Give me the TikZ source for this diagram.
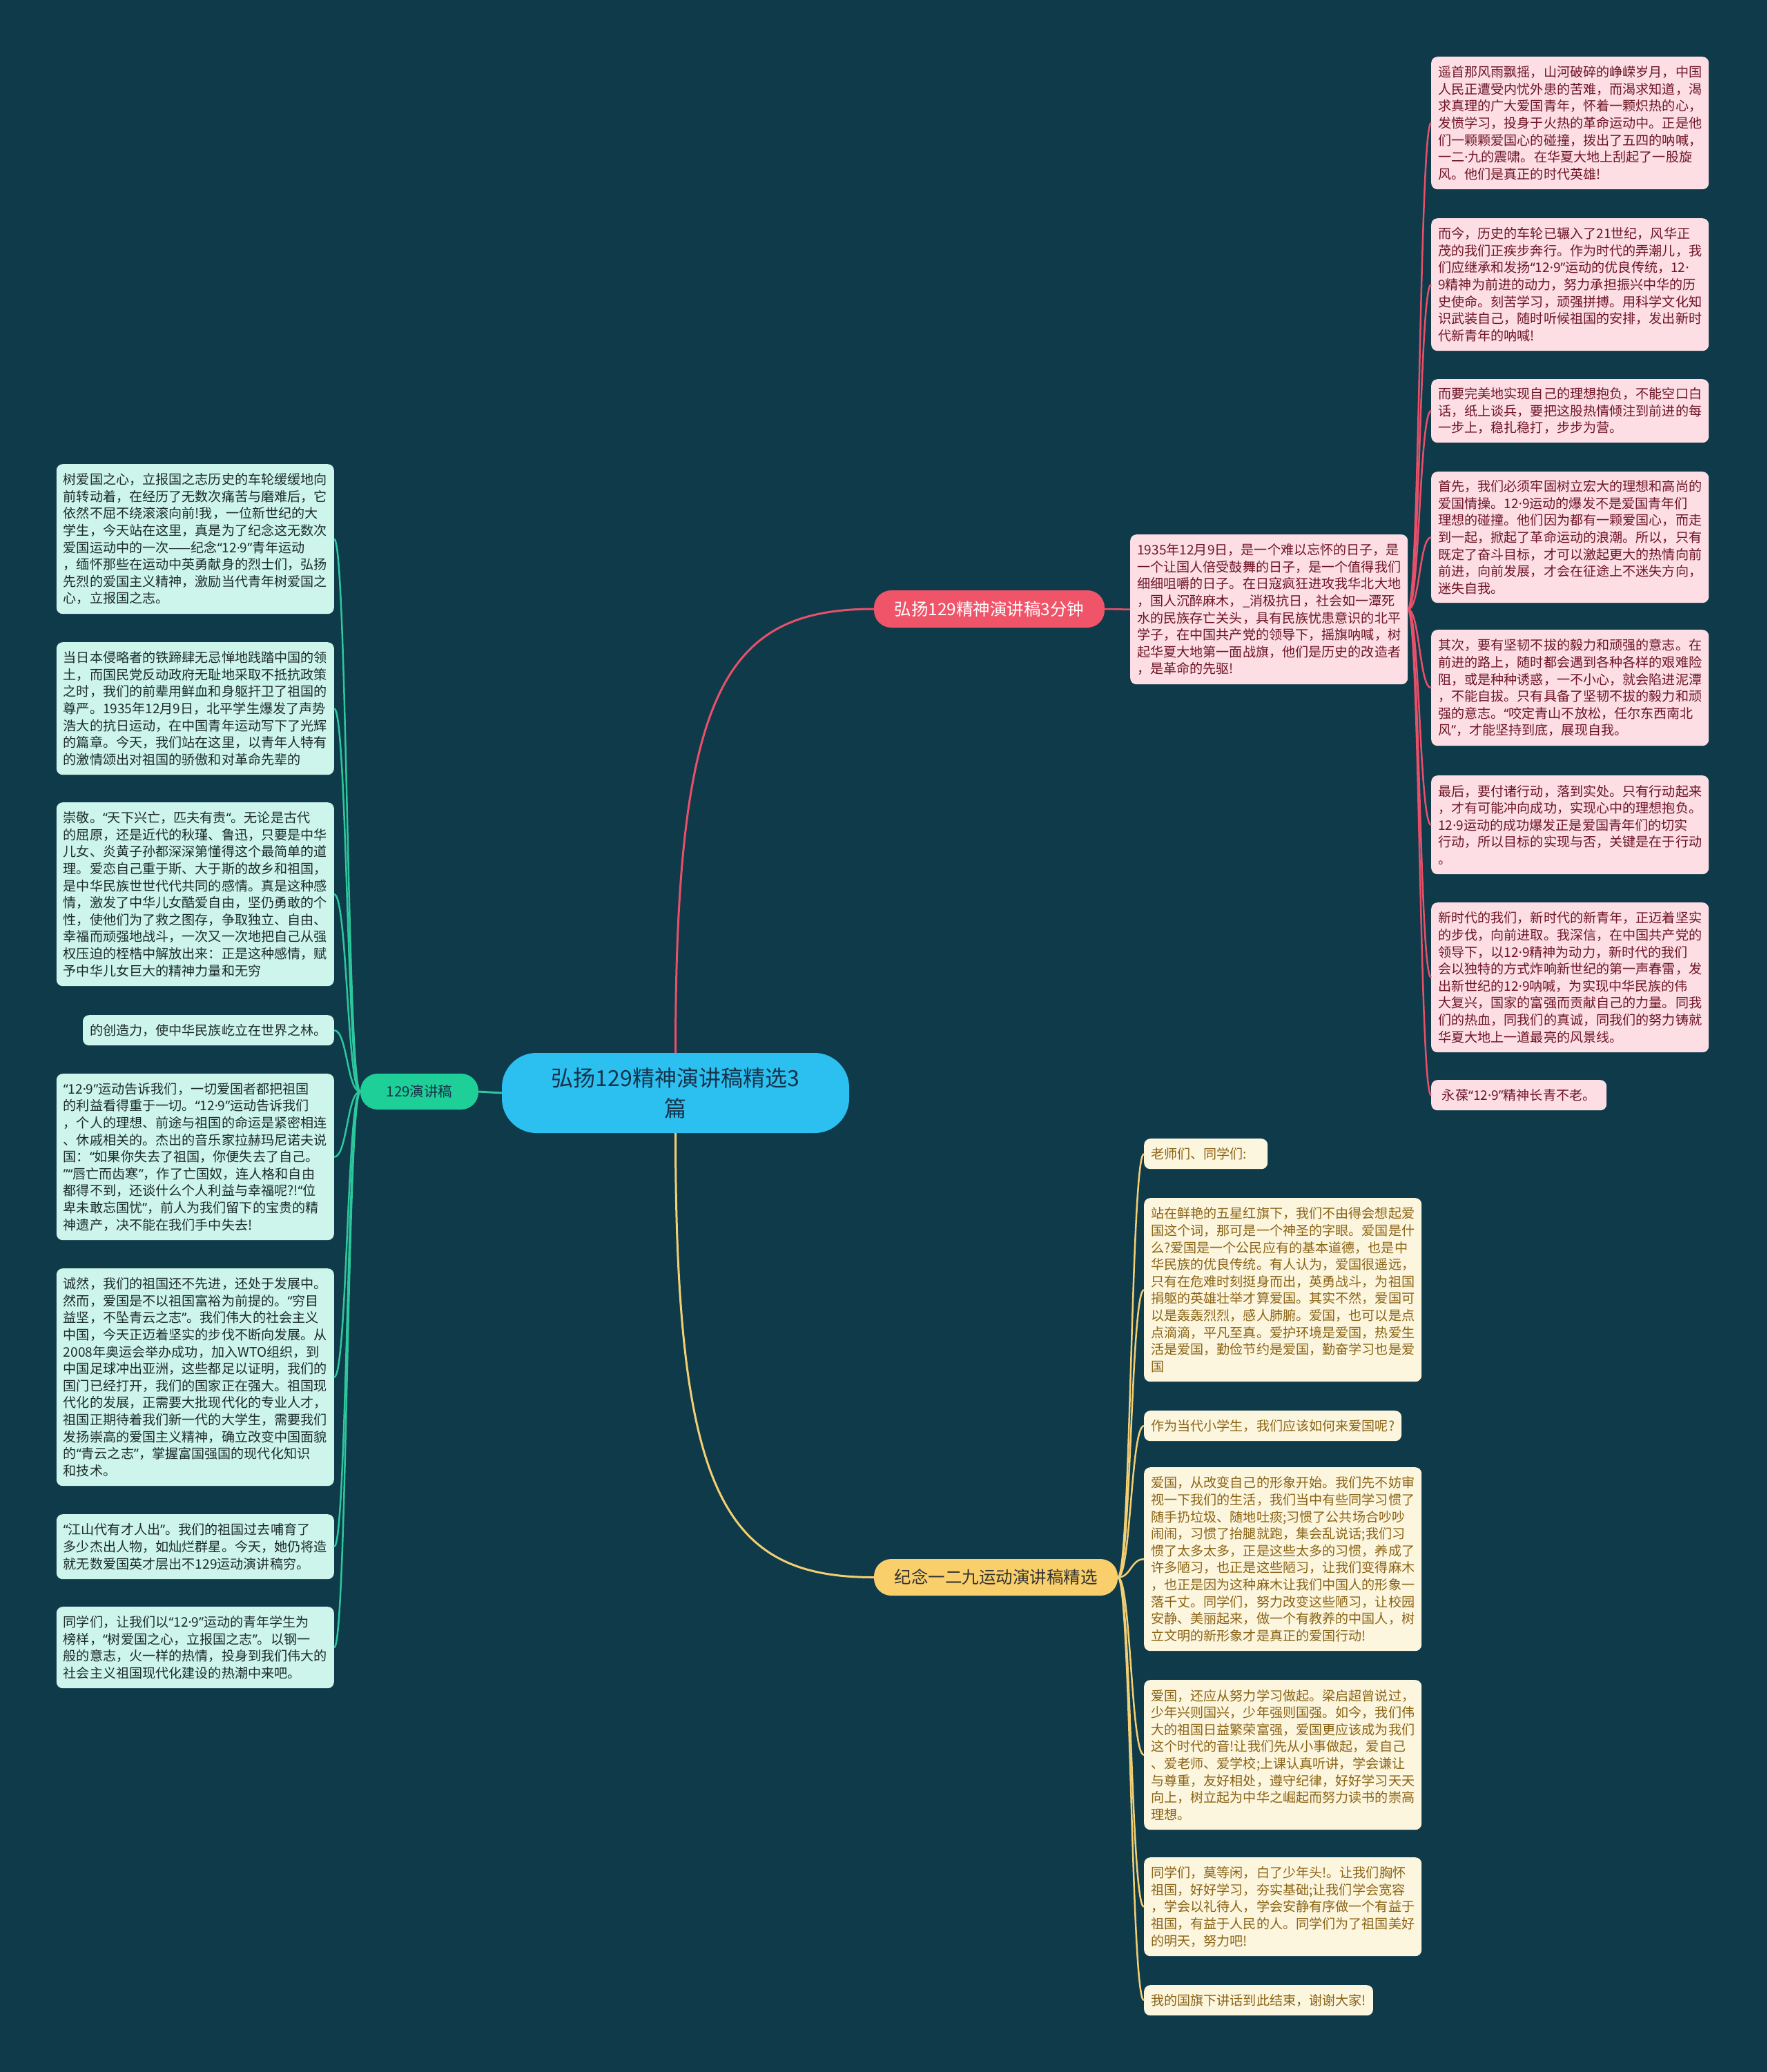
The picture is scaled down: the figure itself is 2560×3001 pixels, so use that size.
\documentclass[tikz,border=0pt]{standalone}
\usepackage{fontspec}
\newfontfamily\cjk{Noto Sans CJK SC}
\newfontfamily\dotf{Noto Sans}
\newcommand\zdot{{\dotf ·}}
\newcommand\qo{{\dotf “}}
\newcommand\qc{{\dotf ”}}
\usetikzlibrary{calc}
\definecolor{bg}{HTML}{0E3A4A}
\definecolor{mint}{HTML}{CDF5EC}
\definecolor{minttext}{HTML}{1C2B2B}
\definecolor{pinkbox}{HTML}{FCDEE4}
\definecolor{pinktext}{HTML}{6E1526}
\definecolor{yelbox}{HTML}{FDF6DE}
\definecolor{yeltext}{HTML}{8A6416}
\definecolor{centerfill}{HTML}{2BC0F0}
\definecolor{centertext}{HTML}{17324A}
\definecolor{tfill}{HTML}{EF5469}
\definecolor{lfill}{HTML}{1ECF98}
\definecolor{bfill}{HTML}{F8CF6B}
\definecolor{gline}{HTML}{2CC79C}
\definecolor{pline}{HTML}{E8506A}
\definecolor{yline}{HTML}{F3CF73}
\begin{document}
\begin{tikzpicture}[x=1pt,y=-1pt,
  box/.style={rounded corners=9pt, inner xsep=10pt, inner ysep=0pt,
    font=\cjk\fontsize{19.1}{24.6}\selectfont, align=left},
  wide/.style={text width=382pt},
  lbox/.style={box, fill=mint, text=minttext, anchor=north east},
  rbox/.style={box, fill=pinkbox, text=pinktext, anchor=north west},
  ybox/.style={box, fill=yelbox, text=yeltext, anchor=north west},
  gconn/.style={draw=gline, line width=2.5pt},
  pconn/.style={draw=pline, line width=2.5pt},
  yconn/.style={draw=yline, line width=2.5pt},
]
\useasboundingbox (0,0) rectangle (2560,3001);
\fill[bg] (0,0) rectangle (2560,3001);

% main nodes
\node[fill=centerfill, text=centertext, rounded corners=50pt, minimum width=503pt, minimum height=116pt,
  align=center, font=\cjk\fontsize{32}{44}\selectfont] (C) at (978.5,1583) {弘扬129精神演讲稿精选3\\篇};
\node[fill=tfill, text=white, rounded corners=25pt, minimum width=334pt, minimum height=54pt,
  font=\cjk\fontsize{24.5}{30}\selectfont] (T) at (1433,882) {弘扬129精神演讲稿3分钟};
\node[fill=lfill, text=centertext, rounded corners=25pt, minimum width=171pt, minimum height=52pt,
  font=\cjk\fontsize{20.5}{26}\selectfont] (L) at (607.5,1581) {129演讲稿};
\node[fill=bfill, text=black!80, rounded corners=25pt, minimum width=353pt, minimum height=53pt,
  font=\cjk\fontsize{24.5}{30}\selectfont] (B) at (1442.5,2284.5) {纪念一二九运动演讲稿精选};

% middle box
\node[rbox, wide, minimum height=217pt] (M) at (1637,774) {1935年12月9日，是一个难以忘怀的日子，是\\一个让国人倍受鼓舞的日子，是一个值得我们\\细细咀嚼的日子。在日寇疯狂进攻我华北大地\\，国人沉醉麻木，\_消极抗日，社会如一潭死\\水的民族存亡关头，具有民族忧患意识的北平\\学子，在中国共产党的领导下，摇旗呐喊，树\\起华夏大地第一面战旗，他们是历史的改造者\\，是革命的先驱!};

% right top boxes
\node[rbox, wide, minimum height=192pt] (R1) at (2073,82) {遥首那风雨飘摇，山河破碎的峥嵘岁月，中国\\人民正遭受内忧外患的苦难，而渴求知道，渴\\求真理的广大爱国青年，怀着一颗炽热的心，\\发愤学习，投身于火热的革命运动中。正是他\\们一颗颗爱国心的碰撞，拨出了五四的呐喊，\\一二\zdot 九的震啸。在华夏大地上刮起了一股旋\\风。他们是真正的时代英雄!};
\node[rbox, wide, minimum height=192pt] (R2) at (2073,316) {而今，历史的车轮已辗入了21世纪，风华正\\茂的我们正疾步奔行。作为时代的弄潮儿，我\\们应继承和发扬\qo{}12\zdot 9\qc{}运动的优良传统，12\zdot\\9精神为前进的动力，努力承担振兴中华的历\\史使命。刻苦学习，顽强拼搏。用科学文化知\\识武装自己，随时听候祖国的安排，发出新时\\代新青年的呐喊!};
\node[rbox, wide, minimum height=92pt] (R3) at (2073,549) {而要完美地实现自己的理想抱负，不能空口白\\话，纸上谈兵，要把这股热情倾注到前进的每\\一步上，稳扎稳打，步步为营。};
\node[rbox, wide, minimum height=190pt] (R4) at (2073,683) {首先，我们必须牢固树立宏大的理想和高尚的\\爱国情操。12\zdot 9运动的爆发不是爱国青年们\\理想的碰撞。他们因为都有一颗爱国心，而走\\到一起，掀起了革命运动的浪潮。所以，只有\\既定了奋斗目标，才可以激起更大的热情向前\\前进，向前发展，才会在征途上不迷失方向，\\迷失自我。};
\node[rbox, wide, minimum height=168pt] (R5) at (2073,912) {其次，要有坚韧不拔的毅力和顽强的意志。在\\前进的路上，随时都会遇到各种各样的艰难险\\阻，或是种种诱惑，一不小心，就会陷进泥潭\\，不能自拔。只有具备了坚韧不拔的毅力和顽\\强的意志。\qo{}咬定青山不放松，任尔东西南北\\风\qc{}，才能坚持到底，展现自我。};
\node[rbox, wide, minimum height=143pt] (R6) at (2073,1123) {最后，要付诸行动，落到实处。只有行动起来\\，才有可能冲向成功，实现心中的理想抱负。\\12\zdot 9运动的成功爆发正是爱国青年们的切实\\行动，所以目标的实现与否，关键是在于行动\\。};
\node[rbox, wide, minimum height=217pt] (R7) at (2073,1307) {新时代的我们，新时代的新青年，正迈着坚实\\的步伐，向前进取。我深信，在中国共产党的\\领导下，以12\zdot 9精神为动力，新时代的我们\\会以独特的方式炸响新世纪的第一声春雷，发\\出新世纪的12\zdot 9呐喊，为实现中华民族的伟\\大复兴，国家的富强而贡献自己的力量。同我\\们的热血，同我们的真诚，同我们的努力铸就\\华夏大地上一道最亮的风景线。};
\node[rbox, minimum height=44pt, minimum width=254pt] (R8) at (2073,1564) {永葆\qo{}12\zdot 9\qc{}精神长青不老。};

% left boxes
\node[lbox, wide, minimum height=217pt] (L1) at (484,672) {树爱国之心，立报国之志历史的车轮缓缓地向\\前转动着，在经历了无数次痛苦与磨难后，它\\依然不屈不绕滚滚向前!我，一位新世纪的大\\学生，今天站在这里，真是为了纪念这无数次\\\mbox{爱国运动中的一次——纪念\qo{}12\zdot 9\qc{}青年运动}\\，缅怀那些在运动中英勇献身的烈士们，弘扬\\先烈的爱国主义精神，激励当代青年树爱国之\\心，立报国之志。};
\node[lbox, wide, minimum height=192pt] (L2) at (484,930) {当日本侵略者的铁蹄肆无忌惮地践踏中国的领\\土，而国民党反动政府无耻地采取不抵抗政策\\之时，我们的前辈用鲜血和身躯扞卫了祖国的\\尊严。1935年12月9日，北平学生爆发了声势\\浩大的抗日运动，在中国青年运动写下了光辉\\的篇章。今天，我们站在这里，以青年人特有\\的激情颂出对祖国的骄傲和对革命先辈的};
\node[lbox, wide, minimum height=266pt] (L3) at (484,1162) {崇敬。\qo{}天下兴亡，匹夫有责\qo{}。无论是古代\\的屈原，还是近代的秋瑾、鲁迅，只要是中华\\儿女、炎黄子孙都深深第懂得这个最简单的道\\理。爱恋自己重于斯、大于斯的故乡和祖国，\\是中华民族世世代代共同的感情。真是这种感\\情，激发了中华儿女酷爱自由，坚仍勇敢的个\\性，使他们为了救之图存，争取独立、自由、\\幸福而顽强地战斗，一次又一次地把自己从强\\权压迫的桎梏中解放出来：正是这种感情，赋\\予中华儿女巨大的精神力量和无穷};
\node[lbox, minimum height=44pt] (L4) at (484,1470) {的创造力，使中华民族屹立在世界之林。};
\node[lbox, wide, minimum height=241pt] (L5) at (484,1555) {\qo{}12\zdot 9\qc{}运动告诉我们，一切爱国者都把祖国\\的利益看得重于一切。\qo{}12\zdot 9\qc{}运动告诉我们\\，个人的理想、前途与祖国的命运是紧密相连\\、休戚相关的。杰出的音乐家拉赫玛尼诺夫说\\国：\qo{}如果你失去了祖国，你便失去了自己。\\\qc{}\qo{}唇亡而齿寒\qc{}，作了亡国奴，连人格和自由\\都得不到，还谈什么个人利益与幸福呢?!\qo{}位\\卑未敢忘国忧\qc{}，前人为我们留下的宝贵的精\\神遗产，决不能在我们手中失去!};
\node[lbox, wide, minimum height=315pt] (L6) at (484,1837) {诚然，我们的祖国还不先进，还处于发展中。\\然而，爱国是不以祖国富裕为前提的。\qo{}穷目\\益坚，不坠青云之志\qc{}。我们伟大的社会主义\\中国，今天正迈着坚实的步伐不断向发展。从\\2008年奥运会举办成功，加入WTO组织，到\\中国足球冲出亚洲，这些都足以证明，我们的\\国门已经打开，我们的国家正在强大。祖国现\\代化的发展，正需要大批现代化的专业人才，\\祖国正期待着我们新一代的大学生，需要我们\\发扬崇高的爱国主义精神，确立改变中国面貌\\的\qo{}青云之志\qc{}，掌握富国强国的现代化知识\\和技术。};
\node[lbox, wide, minimum height=94pt] (L7) at (484,2193) {\qo{}江山代有才人出\qc{}。我们的祖国过去哺育了\\多少杰出人物，如灿烂群星。今天，她仍将造\\就无数爱国英才层出不129运动演讲稿穷。};
\node[lbox, wide, minimum height=118pt] (L8) at (484,2327) {同学们，让我们以\qo{}12\zdot 9\qc{}运动的青年学生为\\榜样，\qo{}树爱国之心，立报国之志\qc{}。以钢一\\般的意志，火一样的热情，投身到我们伟大的\\社会主义祖国现代化建设的热潮中来吧。};

% bottom boxes
\node[ybox, minimum height=44pt, minimum width=174pt, align=left] (B1) at (1657,1649) {老师们、同学们:\hspace*{20pt}};
\node[ybox, wide, minimum height=266pt] (B2) at (1657,1735) {站在鲜艳的五星红旗下，我们不由得会想起爱\\国这个词，那可是一个神圣的字眼。爱国是什\\么?爱国是一个公民应有的基本道德，也是中\\华民族的优良传统。有人认为，爱国很遥远，\\只有在危难时刻挺身而出，英勇战斗，为祖国\\捐躯的英雄壮举才算爱国。其实不然，爱国可\\以是轰轰烈烈，感人肺腑。爱国，也可以是点\\点滴滴，平凡至真。爱护环境是爱国，热爱生\\活是爱国，勤俭节约是爱国，勤奋学习也是爱\\国};
\node[ybox, minimum height=44pt] (B3) at (1657,2043) {作为当代小学生，我们应该如何来爱国呢?};
\node[ybox, wide, minimum height=266pt] (B4) at (1657,2125) {爱国，从改变自己的形象开始。我们先不妨审\\视一下我们的生活，我们当中有些同学习惯了\\随手扔垃圾、随地吐痰;习惯了公共场合吵吵\\闹闹，习惯了抬腿就跑，集会乱说话;我们习\\惯了太多太多，正是这些太多的习惯，养成了\\许多陋习，也正是这些陋习，让我们变得麻木\\，也正是因为这种麻木让我们中国人的形象一\\落千丈。同学们，努力改变这些陋习，让校园\\安静、美丽起来，做一个有教养的中国人，树\\立文明的新形象才是真正的爱国行动!};
\node[ybox, wide, minimum height=217pt] (B5) at (1657,2433) {爱国，还应从努力学习做起。梁启超曾说过，\\少年兴则国兴，少年强则国强。如今，我们伟\\大的祖国日益繁荣富强，爱国更应该成为我们\\这个时代的音!让我们先从小事做起，爱自己\\、爱老师、爱学校;上课认真听讲，学会谦让\\与尊重，友好相处，遵守纪律，好好学习天天\\向上，树立起为中华之崛起而努力读书的崇高\\理想。};
\node[ybox, wide, minimum height=143pt] (B6) at (1657,2690) {同学们，莫等闲，白了少年头!。让我们胸怀\\祖国，好好学习，夯实基础;让我们学会宽容\\，学会以礼待人，学会安静有序做一个有益于\\祖国，有益于人民的人。同学们为了祖国美好\\的明天，努力吧!};
\node[ybox, minimum height=44pt] (B7) at (1657,2875) {我的国旗下讲话到此结束，谢谢大家!};

% connectors from center
\draw[pconn, line width=3pt] (C.north) .. controls +(0,-525) and +(-216,0) .. (T.west);
\draw[yconn, line width=3pt] (C.south) .. controls +(0,525) and +(-216,0) .. (B.west);
\draw[gconn, line width=3pt] (C.west) -- (L.east);
\draw[pconn] (T.east) -- (M.west);

% left children
\foreach \n in {L1,L2,L3,L4,L5,L6,L7,L8}
  \draw[gconn] (L.west) .. controls +(-19,0) and +(19,0) .. (\n.east);
% right children
\foreach \n in {R1,R2,R3,R4,R5,R6,R7,R8}
  \draw[pconn] (M.east) .. controls +(17,0) and +(-17,0) .. (\n.west);
% bottom children
\foreach \n in {B1,B2,B3,B4,B5,B6,B7}
  \draw[yconn] (B.east) .. controls +(19,0) and +(-19,0) .. (\n.west);
\end{tikzpicture}
\end{document}
